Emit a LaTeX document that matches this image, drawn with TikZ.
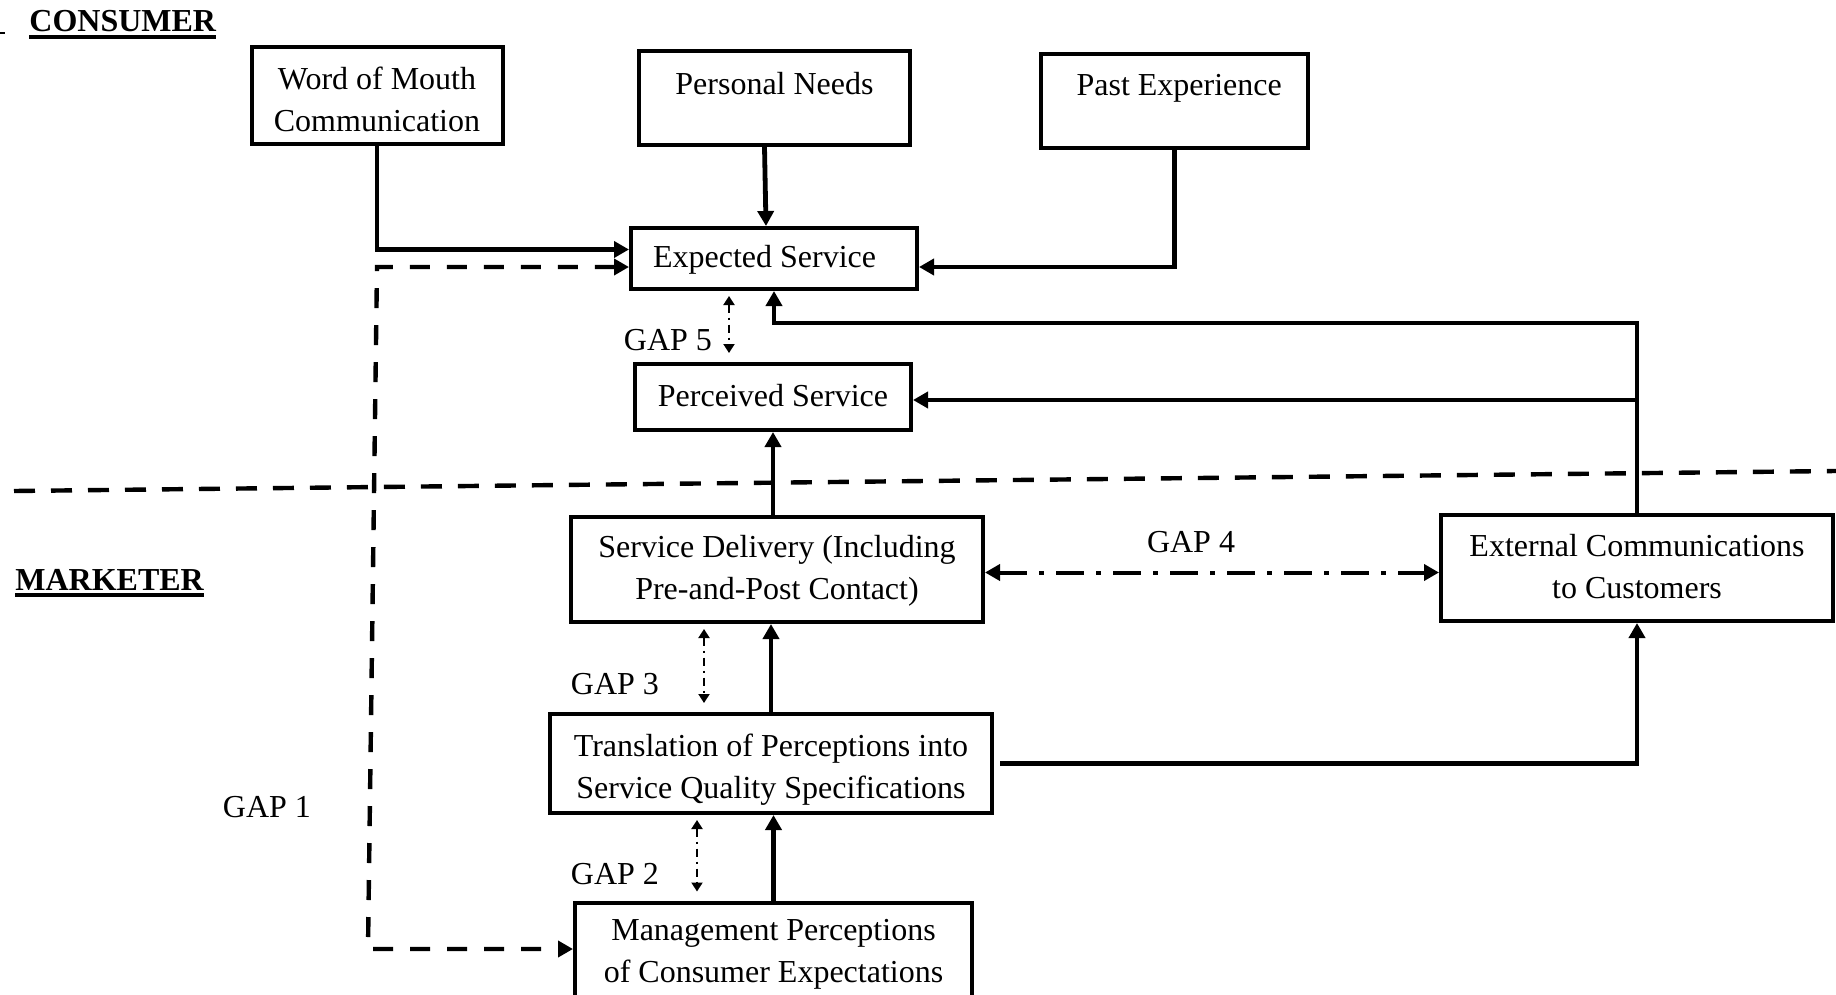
\documentclass[tikz,border=0pt]{standalone}
\usepackage{fontspec}
\setmainfont{Liberation Serif}
\usetikzlibrary{arrows.meta, positioning}
\newcommand{\boxstrut}{\rule[-3pt]{0pt}{15pt}}
\tikzstyle{stage} = [rectangle, draw, line width=2pt, align=center, inner sep=0pt]
\tikzstyle{side} = [anchor=base west, inner sep=0pt, font=\fontsize{16}{21}\selectfont\bfseries]
\tikzstyle{underl} = [line width=1.6pt]
\tikzstyle{flow} = [line width=2.4pt, -{Triangle[length=7.5pt,width=8pt]}]
\tikzstyle{gaparrow} = [line width=1pt, dash pattern=on 4pt off 2.5pt on 1pt off 2.5pt, {Triangle[length=4.5pt,width=5.5pt]}-{Triangle[length=4.5pt,width=5.5pt]}, shorten <=2.5pt, shorten >=4.5pt]
\tikzstyle{gapone} = [line width=2.2pt, dash pattern=on 10pt off 8.5pt, {Triangle[length=7.5pt,width=8pt]}-{Triangle[length=7.5pt,width=8pt]}]
\tikzstyle{gapfour} = [line width=2pt, dash pattern=on 14pt off 6pt on 2.5pt off 6pt, {Triangle[length=7.5pt,width=8pt]}-{Triangle[length=7.5pt,width=8pt]}]
\tikzstyle{divider} = [line width=2.2pt, dash pattern=on 10.5pt off 8pt]

\begin{document}
\begin{tikzpicture}[x=0.5pt, y=-0.5pt, font=\fontsize{16}{21}\selectfont]
  \useasboundingbox (0,0) rectangle (1836,995);
  \clip (0,0) rectangle (1836,995);

  % Seiten
  \node[side] (consumer) at (29,32) {CONSUMER};
  \node[side] (marketer) at (15,590) {MARKETER};
  \draw[underl] ([yshift=-2.5pt]consumer.base west) -- ([yshift=-2.5pt]consumer.base east);
  \draw[underl] ([yshift=-2.5pt]marketer.base west) -- ([yshift=-2.5pt]marketer.base east);
  \draw[line width=1pt] (0,33) -- (5,33);
  \draw[divider] (14,491) -- (1836,471);

  % Kunde
  \node[stage, minimum width=125.5pt, minimum height=48.5pt] (wom) at (377,96) {\rule{0pt}{18pt}Word of Mouth\\\boxstrut Communication};
  \node[stage, minimum width=135.5pt, minimum height=47pt, text height=15pt, text depth=18pt] (needs) at (774.5,98) {Personal Needs};
  \node[stage, minimum width=133.5pt, minimum height=47pt, text height=15pt, text depth=20pt] (past) at (1174.5,101) {\kern4.7pt Past Experience};
  \node[stage, minimum width=143pt, minimum height=30.5pt] (expected) at (774,258.5) {\boxstrut Expected Service\kern9.4pt};
  \node[stage, minimum width=138pt, minimum height=33pt] (perceived) at (773,397) {\boxstrut Perceived Service};

  % Anbieter
  \node[stage, minimum width=206pt, minimum height=52.5pt] (delivery) at (777,569.5) {\boxstrut Service Delivery (Including\\\boxstrut Pre-and-Post Contact)};
  \node[stage, minimum width=196pt, minimum height=53pt] (external) at (1637,568) {\boxstrut External Communications\\\boxstrut to Customers};
  \node[stage, minimum width=221pt, minimum height=49.5pt] (translation) at (771,763.5) {\rule{0pt}{17pt}Translation of Perceptions into\\\boxstrut Service Quality Specifications};
  \node[stage, minimum width=198.5pt, minimum height=50.5pt] (management) at (773.5,953) {\boxstrut Management Perceptions\\\boxstrut of Consumer Expectations};

  % Luecken
  \node (gap1) at (267,807) {GAP 1};
  \node (gap2) at (615,874) {GAP 2};
  \node (gap3) at (615,684) {GAP 3};
  \node (gap4) at (1191,542) {GAP 4};
  \node (gap5) at (668,340) {GAP 5};

  % Erwartung
  \draw[flow] (wom.south) |- ([yshift=4.5pt]expected.west);
  \draw[flow] ([xshift=-5pt]needs.south) -- ([xshift=-4pt]expected.north);
  \draw[flow] (past.south) |- ([yshift=-4.25pt]expected.east);
  \draw[flow] (external.north) -- (external.north |- 0,323) -| (expected.south);
  \draw[flow] (external.north |- 0,400) -- (perceived.east |- 0,400);

  % Prozess
  \draw[flow] (delivery.north -| perceived.south) -- (perceived.south);
  \draw[flow] (translation.north) -- (translation.north |- delivery.south);
  \draw[flow] (management.north) -- (management.north |- translation.south);
  \draw[flow, shorten <=3pt] (translation.east) -| (external.south);

  % Gap-Pfeile
  \coordinate (g1top) at (377,267);
  \coordinate (g1bot) at (368,949);
  \draw[gapone] ([yshift=-4.25pt]expected.west) -- (g1top) -- (g1bot) -- (management.west |- g1bot);
  \draw[gaparrow] ([xshift=-37pt]translation.south) -- ([xshift=-37pt]translation.south |- management.north);
  \draw[gaparrow] ([xshift=-36.5pt]delivery.south) -- ([xshift=-36.5pt]delivery.south |- translation.north);
  \draw[gapfour] ([yshift=-1.5pt]delivery.east) -- ([yshift=-1.5pt]delivery.east -| external.west);
  \draw[gaparrow] ([xshift=-22.5pt]expected.south) -- ([xshift=-22.5pt]expected.south |- perceived.north);
\end{tikzpicture}
\end{document}
